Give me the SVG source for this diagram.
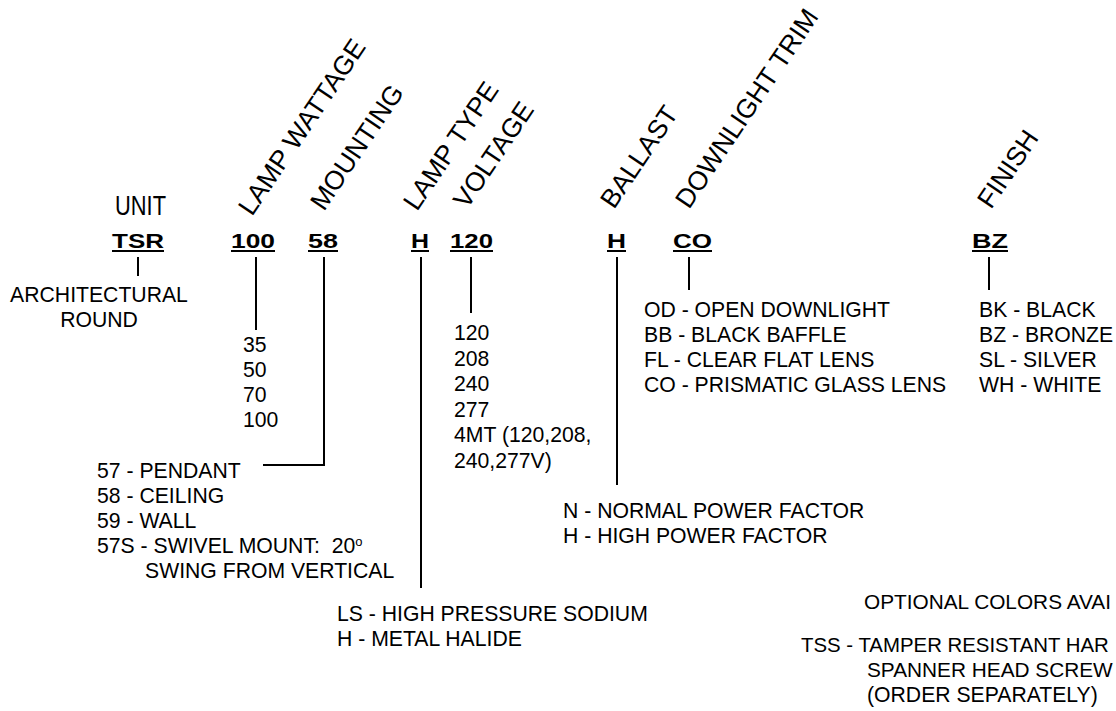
<svg xmlns="http://www.w3.org/2000/svg" width="1116" height="711" viewBox="0 0 1116 711">
<style>
text{font-family:"Liberation Sans",Arial,sans-serif;fill:#000}
.t{font-size:21.2px}
.h{font-size:26.5px}
.c{font-size:21px;font-weight:bold}
.ln{stroke:#000;stroke-width:2;fill:none}
.ul{stroke:#000;stroke-width:2}
</style>
<rect width="1116" height="711" fill="#fff"/>
<g id="headers">
<text x="115" y="215" font-size="28" textLength="51" lengthAdjust="spacingAndGlyphs">UNIT</text>
<text class="h" transform="translate(252,217) rotate(-56)">LAMP WATTAGE</text>
<text class="h" transform="translate(324,212) rotate(-56)">MOUNTING</text>
<text class="h" transform="translate(417,212) rotate(-56)">LAMP TYPE</text>
<text class="h" transform="translate(467,210) rotate(-56)">VOLTAGE</text>
<text class="h" transform="translate(614,210) rotate(-56)">BALLAST</text>
<text class="h" transform="translate(689,210) rotate(-56)">DOWNLIGHT TRIM</text>
<text class="h" transform="translate(991,210) rotate(-56)">FINISH</text>
</g>
<g id="unit">
<text class="c" x="112" y="248" textLength="52" lengthAdjust="spacingAndGlyphs">TSR</text>
<line class="ul" x1="112" y1="251" x2="164" y2="251"/>
<text class="t" x="99" y="302" text-anchor="middle">ARCHITECTURAL</text>
<text class="t" x="99" y="327" text-anchor="middle">ROUND</text>
</g>
<g id="wattage">
<text class="c" x="231" y="248" textLength="44" lengthAdjust="spacingAndGlyphs">100</text>
<line class="ul" x1="231" y1="251" x2="275" y2="251"/>
<text class="t" x="243" y="352">35</text>
<text class="t" x="243" y="377">50</text>
<text class="t" x="243" y="402">70</text>
<text class="t" x="243" y="427">100</text>
</g>
<g id="mounting">
<text class="c" x="308" y="248" textLength="30" lengthAdjust="spacingAndGlyphs">58</text>
<line class="ul" x1="308" y1="251" x2="338" y2="251"/>
<text class="t" x="97" y="478">57 - PENDANT</text>
<text class="t" x="97" y="503">58 - CEILING</text>
<text class="t" x="97" y="528">59 - WALL</text>
<text class="t" x="97" y="553">57S - SWIVEL MOUNT:&#160; 20<tspan font-size="13" dy="-7">o</tspan></text>
<text class="t" x="145" y="578">SWING FROM VERTICAL</text>
</g>
<g id="lamptype">
<text class="c" x="411" y="248" textLength="18" lengthAdjust="spacingAndGlyphs">H</text>
<line class="ul" x1="411" y1="251" x2="429" y2="251"/>
<text class="t" x="337" y="621">LS - HIGH PRESSURE SODIUM</text>
<text class="t" x="337" y="646">H - METAL HALIDE</text>
</g>
<g id="voltage">
<text class="c" x="450" y="248" textLength="43" lengthAdjust="spacingAndGlyphs">120</text>
<line class="ul" x1="450" y1="251" x2="493" y2="251"/>
<text class="t" x="454" y="340">120</text>
<text class="t" x="454" y="366">208</text>
<text class="t" x="454" y="391">240</text>
<text class="t" x="454" y="417">277</text>
<text class="t" x="454" y="442">4MT (120,208,</text>
<text class="t" x="454" y="468">240,277V)</text>
</g>
<g id="ballast">
<text class="c" x="607" y="248" textLength="19" lengthAdjust="spacingAndGlyphs">H</text>
<line class="ul" x1="607" y1="251" x2="626" y2="251"/>
<text class="t" x="563" y="518">N - NORMAL POWER FACTOR</text>
<text class="t" x="563" y="543">H - HIGH POWER FACTOR</text>
</g>
<g id="trim">
<text class="c" x="673" y="248" textLength="39" lengthAdjust="spacingAndGlyphs">CO</text>
<line class="ul" x1="673" y1="251" x2="712" y2="251"/>
<text class="t" x="644" y="317">OD - OPEN DOWNLIGHT</text>
<text class="t" x="644" y="342">BB - BLACK BAFFLE</text>
<text class="t" x="644" y="367">FL - CLEAR FLAT LENS</text>
<text class="t" x="644" y="392">CO - PRISMATIC GLASS LENS</text>
</g>
<g id="finish">
<text class="c" x="972" y="248" textLength="36" lengthAdjust="spacingAndGlyphs">BZ</text>
<line class="ul" x1="972" y1="251" x2="1008" y2="251"/>
<text class="t" x="979" y="317">BK - BLACK</text>
<text class="t" x="979" y="342">BZ - BRONZE</text>
<text class="t" x="979" y="367">SL - SILVER</text>
<text class="t" x="979" y="392">WH - WHITE</text>
</g>
<g id="options">
<text x="864" y="609" font-size="20.8">OPTIONAL COLORS AVAI</text>
<text x="801" y="652" font-size="20.4">TSS - TAMPER RESISTANT HAR</text>
<text x="867" y="677" font-size="20.8">SPANNER HEAD SCREW</text>
<text class="t" x="867" y="702">(ORDER SEPARATELY)</text>
</g>
<g id="connectors">
<line class="ln" x1="138" y1="257" x2="138" y2="276"/>
<line class="ln" x1="256" y1="257" x2="256" y2="330"/>
<polyline class="ln" points="324,257 324,465 263,465"/>
<line class="ln" x1="421" y1="257" x2="421" y2="588"/>
<line class="ln" x1="471" y1="257" x2="471" y2="313"/>
<line class="ln" x1="617" y1="257" x2="617" y2="485"/>
<line class="ln" x1="689" y1="257" x2="689" y2="290"/>
<line class="ln" x1="989" y1="257" x2="989" y2="290"/>
</g>
</svg>
